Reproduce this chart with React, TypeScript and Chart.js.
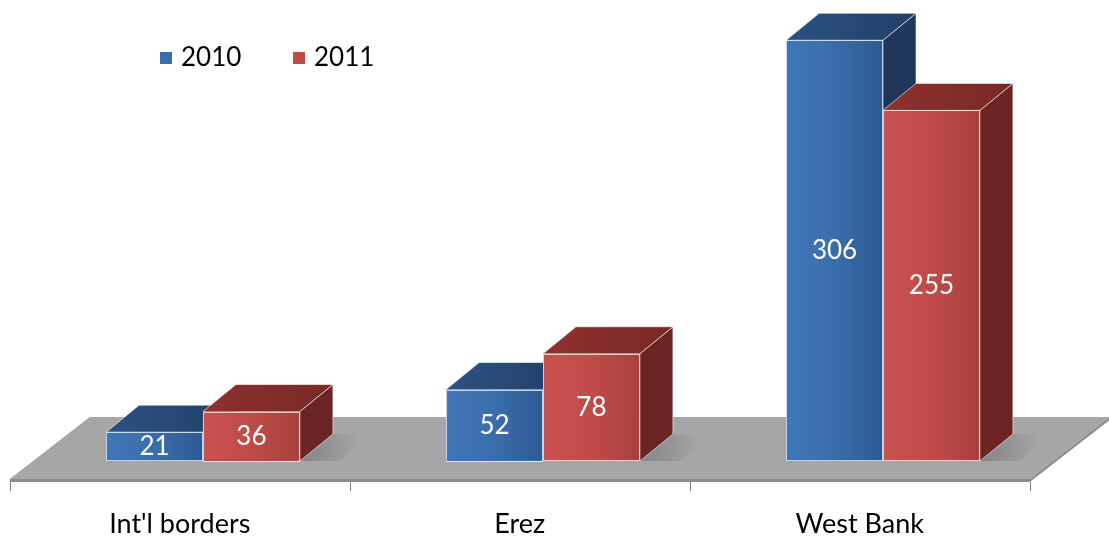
import { useEffect, useRef } from "react";
import { Chart, registerables } from "chart.js";

Chart.register(...registerables);

const categories = ["Int'l borders", "Erez", "West Bank"];
const seriesLabels = ["2010", "2011"];
const values2010 = [21, 52, 306];
const values2011 = [36, 78, 255];
const seriesValues = [values2010, values2011];

const FONT = "Lato, 'Open Sans', 'DejaVu Sans', sans-serif";
const FRONT = ["#3a6dab", "#bf4b48"];
const FRONT_LIGHT = ["#4077b9", "#c9524f"];
const FRONT_DARK = ["#2e5a93", "#a9403d"];
const TOP = ["#2b5283", "#8d312e"];
const TOP_DARK = ["#223f68", "#792826"];
const SIDE = ["#1e375a", "#6b2422"];

const DEPTH_DX = 33;
const DEPTH_DY = 27;
const FLOOR_DX = 80;
const FLOOR_DY = 62;
const FLOOR_FRONT_GAP = 18;
const SHIFT = (FLOOR_FRONT_GAP * FLOOR_DX) / FLOOR_DY;

const threeD = {
  id: "threeD",
  beforeDatasetsDraw(chart: any) {
    const ctx = chart.ctx as CanvasRenderingContext2D;
    const xs = chart.scales.x;
    const ys = chart.scales.y;
    const y0 = ys.getPixelForValue(0);
    const catW = (xs.right - xs.left) / categories.length;
    const fy = y0 + FLOOR_FRONT_GAP;
    const fl = xs.left - SHIFT;
    const fr = xs.right - SHIFT;
    ctx.save();
    // floor
    ctx.fillStyle = "#a6a6a6";
    ctx.beginPath();
    ctx.moveTo(fl, fy);
    ctx.lineTo(fl + FLOOR_DX, fy - FLOOR_DY);
    ctx.lineTo(fr + FLOOR_DX, fy - FLOOR_DY);
    ctx.lineTo(fr, fy);
    ctx.closePath();
    ctx.fill();
    // floor thickness
    ctx.fillStyle = "#8c8c8c";
    ctx.beginPath();
    ctx.moveTo(fl, fy);
    ctx.lineTo(fr, fy);
    ctx.lineTo(fr + FLOOR_DX, fy - FLOOR_DY);
    ctx.lineTo(fr + FLOOR_DX, fy - FLOOR_DY + 3);
    ctx.lineTo(fr, fy + 3);
    ctx.lineTo(fl, fy + 3);
    ctx.closePath();
    ctx.fill();
    // tick marks
    ctx.strokeStyle = "#808080";
    ctx.lineWidth = 1;
    for (let i = 0; i <= categories.length; i++) {
      const x = Math.round(xs.left - SHIFT + i * catW) + 0.5;
      ctx.beginPath();
      ctx.moveTo(x, fy + 3);
      ctx.lineTo(x, fy + 12);
      ctx.stroke();
    }
    // shadows
    const m0 = chart.getDatasetMeta(0);
    const m1 = chart.getDatasetMeta(1);
    for (let i = 0; i < categories.length; i++) {
      const b = m1.data[i];
      const right = b.x + b.width / 2;
      const g = ctx.createLinearGradient(right, 0, right + 60, 0);
      g.addColorStop(0, "rgba(90,90,90,0.45)");
      g.addColorStop(1, "rgba(90,90,90,0)");
      ctx.fillStyle = g;
      ctx.beginPath();
      ctx.moveTo(right, y0);
      ctx.lineTo(right + DEPTH_DX, y0 - DEPTH_DY);
      ctx.lineTo(right + DEPTH_DX + 40, y0 - DEPTH_DY);
      ctx.lineTo(right + 40, y0);
      ctx.closePath();
      ctx.fill();
    }
    // top and side faces
    for (let i = 0; i < categories.length; i++) {
      [m0, m1].forEach((meta: any, d: number) => {
        const b = meta.data[i];
        const l = b.x - b.width / 2;
        const r = b.x + b.width / 2;
        const t = b.y;
        const base = b.base;
        // side
        ctx.fillStyle = SIDE[d];
        ctx.beginPath();
        ctx.moveTo(r, t);
        ctx.lineTo(r + DEPTH_DX, t - DEPTH_DY);
        ctx.lineTo(r + DEPTH_DX, base - DEPTH_DY);
        ctx.lineTo(r, base);
        ctx.closePath();
        ctx.fill();
        ctx.strokeStyle = "rgba(255,255,255,0.55)";
        ctx.stroke();
        // top
        const tg = ctx.createLinearGradient(l, 0, r + DEPTH_DX, 0);
        tg.addColorStop(0, TOP[d]);
        tg.addColorStop(1, TOP_DARK[d]);
        ctx.fillStyle = tg;
        ctx.beginPath();
        ctx.moveTo(l, t);
        ctx.lineTo(l + DEPTH_DX, t - DEPTH_DY);
        ctx.lineTo(r + DEPTH_DX, t - DEPTH_DY);
        ctx.lineTo(r, t);
        ctx.closePath();
        ctx.fill();
        ctx.strokeStyle = "rgba(255,255,255,0.6)";
        ctx.stroke();
      });
    }
    ctx.restore();
  },
  afterDatasetsDraw(chart: any) {
    const ctx = chart.ctx as CanvasRenderingContext2D;
    ctx.save();
    chart.data.datasets.forEach((ds: any, d: number) => {
      const meta = chart.getDatasetMeta(d);
      meta.data.forEach((b: any, i: number) => {
        const l = b.x - b.width / 2;
        const r = b.x + b.width / 2;
        const g = ctx.createLinearGradient(l, 0, r, 0);
        g.addColorStop(0, FRONT_LIGHT[d]);
        g.addColorStop(0.5, FRONT[d]);
        g.addColorStop(1, FRONT_DARK[d]);
        ctx.fillStyle = g;
        ctx.fillRect(l + 1, b.y + 1, b.width - 2, b.base - b.y - 2);
        ctx.strokeStyle = "rgba(255,255,255,0.7)";
        ctx.lineWidth = 1;
        ctx.strokeRect(Math.round(l) + 0.5, Math.round(b.y) + 0.5, Math.round(b.width) - 1, Math.round(b.base - b.y) - 1);
        ctx.fillStyle = "#ffffff";
        ctx.font = `26px ${FONT}`;
        ctx.textAlign = "center";
        ctx.textBaseline = "middle";
        ctx.fillText(String(ds.data[i]), b.x, (b.y + b.base) / 2);
      });
    });
    ctx.restore();
  },
  afterDraw(chart: any) {
    const ctx = chart.ctx as CanvasRenderingContext2D;
    ctx.save();
    ctx.font = `26px ${FONT}`;
    ctx.textBaseline = "middle";
    ctx.textAlign = "left";
    const xsPos = [160, 293];
    chart.data.datasets.forEach((ds: any, d: number) => {
      const x = xsPos[d];
      ctx.fillStyle = FRONT[d];
      ctx.fillRect(x, 52, 12, 12);
      ctx.fillStyle = "#000000";
      ctx.fillText(ds.label, x + 21, 58);
    });
    ctx.restore();
  },
};

export default function App() {
  const ref = useRef<HTMLCanvasElement | null>(null);
  useEffect(() => {
    if (!ref.current) return;
    const chart = new Chart(ref.current, {
      type: "bar",
      data: {
        labels: categories,
        datasets: seriesLabels.map((label, d) => ({
          label,
          data: seriesValues[d],
          backgroundColor: FRONT[d],
          borderWidth: 0,
          categoryPercentage: 0.57,
          barPercentage: 1,
        })),
      },
      options: {
        responsive: false,
        animation: false,
        devicePixelRatio: 1,
        layout: { padding: { left: 33, right: 56, top: 21, bottom: 0 } },
        plugins: { legend: { display: false }, tooltip: { enabled: false } },
        scales: {
          x: {
            grid: { display: false },
            border: { display: false },
            afterFit: (scale: any) => {
              scale.height = 75;
            },
            ticks: {
              color: "#000000",
              font: { family: FONT, size: 27, lineHeight: 0.8 },
              labelOffset: -SHIFT,
              padding: 44,
              maxRotation: 0,
              autoSkip: false,
            },
          },
          y: { display: false, min: 0, max: 320 },
        },
      },
      plugins: [threeD],
    });
    return () => chart.destroy();
  }, []);
  return (
    <div style={{ position: "absolute", left: 0, top: 0, width: 1109, height: 536 }}>
      <canvas ref={ref} width={1109} height={536} />
    </div>
  );
}
